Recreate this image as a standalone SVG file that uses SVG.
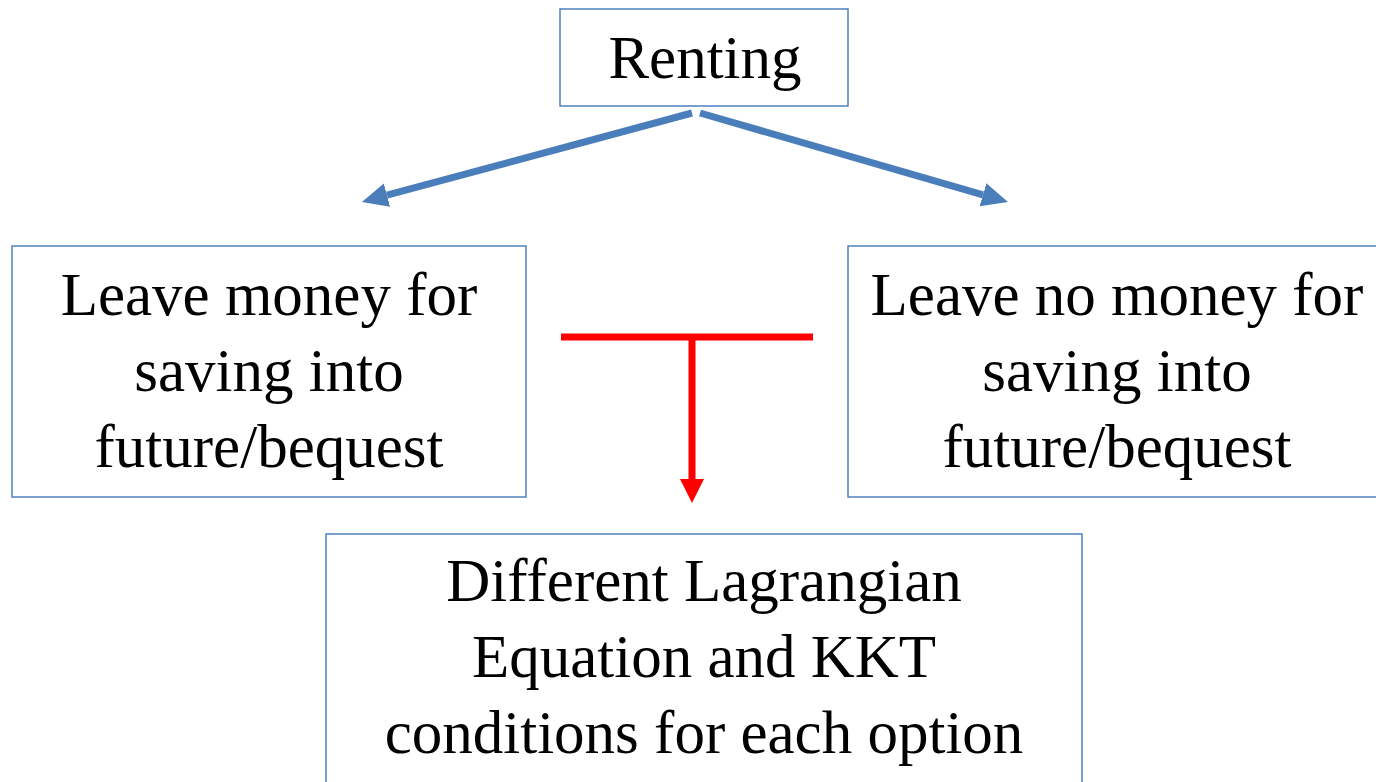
<svg xmlns="http://www.w3.org/2000/svg" width="1376" height="782" viewBox="0 0 1376 782">
<style>
.box{fill:#fff;stroke:#4f81bd;stroke-width:1.5}
.t{font-family:"Liberation Serif","Times New Roman",serif;font-size:61px;fill:#000;text-anchor:middle}
.blue{stroke:#4a7ebb;stroke-width:7;fill:none}
.red{stroke:#ff0000;stroke-width:7;fill:none}
</style>
<defs>
<marker id="ab" markerUnits="userSpaceOnUse" markerWidth="30" markerHeight="26" refX="0" refY="12" orient="auto">
<path d="M0,0 L26,12 L0,24 Z" fill="#4a7ebb"/>
</marker>
<marker id="ar" markerUnits="userSpaceOnUse" markerWidth="26" markerHeight="26" refX="0" refY="12" orient="auto">
<path d="M0,0 L24,12 L0,24 Z" fill="#ff0000"/>
</marker>
</defs>
<rect width="1376" height="782" fill="#fff"/>
<g id="connectors">
<line class="blue" x1="692" y1="113" x2="387" y2="195.2" marker-end="url(#ab)"/>
<line class="blue" x1="700" y1="113" x2="983" y2="194.8" marker-end="url(#ab)"/>
<line class="red" x1="561" y1="337" x2="813" y2="337"/>
<line class="red" x1="692" y1="337" x2="692" y2="479" marker-end="url(#ar)"/>
</g>
<g id="renting">
<rect class="box" x="560" y="9" width="288" height="97"/>
<text class="t" x="705" y="78">Renting</text>
</g>
<g id="leave-money">
<rect class="box" x="12" y="246" width="514" height="251"/>
<text class="t" x="269" y="315">Leave money for</text>
<text class="t" x="269" y="391">saving into</text>
<text class="t" x="269" y="467">future/bequest</text>
</g>
<g id="leave-no-money">
<rect class="box" x="848" y="246" width="540" height="251"/>
<text class="t" x="1117" y="315">Leave no money for</text>
<text class="t" x="1117" y="391">saving into</text>
<text class="t" x="1117" y="467">future/bequest</text>
</g>
<g id="lagrangian">
<rect class="box" x="326" y="534" width="756" height="260"/>
<text class="t" x="704" y="601">Different Lagrangian</text>
<text class="t" x="704" y="677">Equation and KKT</text>
<text class="t" x="704" y="753">conditions for each option</text>
</g>
</svg>
